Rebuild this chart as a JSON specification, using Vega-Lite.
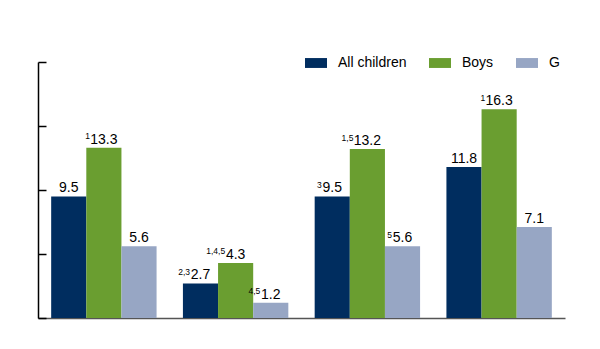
{
  "$schema": "https://vega.github.io/schema/vega-lite/v6.json",
  "width": 527,
  "height": 256,
  "autosize": {"type": "none"},
  "padding": {"left": 38, "top": 62, "right": 35, "bottom": 31},
  "config": {"view": {"stroke": null}, "font": "Liberation Sans"},
  "data": {
    "values": [
      {"group": "Group 1", "series": "All children", "value": 9.5, "sup": ""},
      {"group": "Group 1", "series": "Boys", "value": 13.3, "sup": "1"},
      {"group": "Group 1", "series": "Girls", "value": 5.6, "sup": ""},
      {"group": "Group 2", "series": "All children", "value": 2.7, "sup": "2,3"},
      {"group": "Group 2", "series": "Boys", "value": 4.3, "sup": "1,4,5"},
      {"group": "Group 2", "series": "Girls", "value": 1.2, "sup": "4,5"},
      {"group": "Group 3", "series": "All children", "value": 9.5, "sup": "3"},
      {"group": "Group 3", "series": "Boys", "value": 13.2, "sup": "1,5"},
      {"group": "Group 3", "series": "Girls", "value": 5.6, "sup": "5"},
      {"group": "Group 4", "series": "All children", "value": 11.8, "sup": ""},
      {"group": "Group 4", "series": "Boys", "value": 16.3, "sup": "1"},
      {"group": "Group 4", "series": "Girls", "value": 7.1, "sup": ""}
    ]
  },
  "encoding": {
    "x": {
      "field": "group", "type": "nominal", "sort": null,
      "scale": {"paddingInner": 0.2, "paddingOuter": 0.1},
      "axis": {"title": null, "labels": false, "ticks": false, "domainColor": "#555555", "domainWidth": 1.5}
    },
    "xOffset": {
      "field": "series", "type": "nominal", "sort": ["All children", "Boys", "Girls"],
      "scale": {"paddingInner": 0, "paddingOuter": 0}
    },
    "y": {
      "field": "value", "type": "quantitative",
      "scale": {"domain": [0, 20], "nice": false},
      "axis": {"title": null, "labels": false, "values": [0, 5, 10, 15, 20], "tickSize": -8, "tickColor": "#000000", "tickWidth": 1.5, "domainColor": "#000000", "domainWidth": 1.5, "grid": false}
    }
  },
  "layer": [
    {
      "mark": {"type": "bar"},
      "encoding": {
        "color": {
          "field": "series", "type": "nominal",
          "scale": {"domain": ["All children", "Boys", "Girls"], "range": ["#002D5F", "#6A9E30", "#97A6C4"]},
          "legend": {
            "orient": "none", "legendX": 267, "legendY": -10, "direction": "horizontal", "title": null,
            "symbolType": "M-1,-0.45H1V0.45H-1Z", "symbolSize": 484, "symbolStrokeWidth": 0,
            "labelFontSize": 14, "labelColor": "#000000", "labelOffset": 11, "columnPadding": 22, "padding": 0,
            "labelExpr": "datum.label == 'Girls' ? 'G' : datum.label"
          }
        }
      }
    },
    {
      "mark": {"type": "text", "baseline": "alphabetic", "dy": -4, "fontSize": 14, "color": "#000000"},
      "encoding": {"text": {"field": "value", "type": "quantitative", "format": ".1f"}}
    },
    {
      "transform": [{"filter": "datum.sup != '' && datum.value < 10"}],
      "mark": {"type": "text", "align": "right", "baseline": "alphabetic", "dx": -10.5, "dy": -8.5, "fontSize": 8.5, "color": "#000000"},
      "encoding": {"text": {"field": "sup", "type": "nominal"}}
    },
    {
      "transform": [{"filter": "datum.sup != '' && datum.value >= 10"}],
      "mark": {"type": "text", "align": "right", "baseline": "alphabetic", "dx": -14, "dy": -8.5, "fontSize": 8.5, "color": "#000000"},
      "encoding": {"text": {"field": "sup", "type": "nominal"}}
    }
  ]
}
